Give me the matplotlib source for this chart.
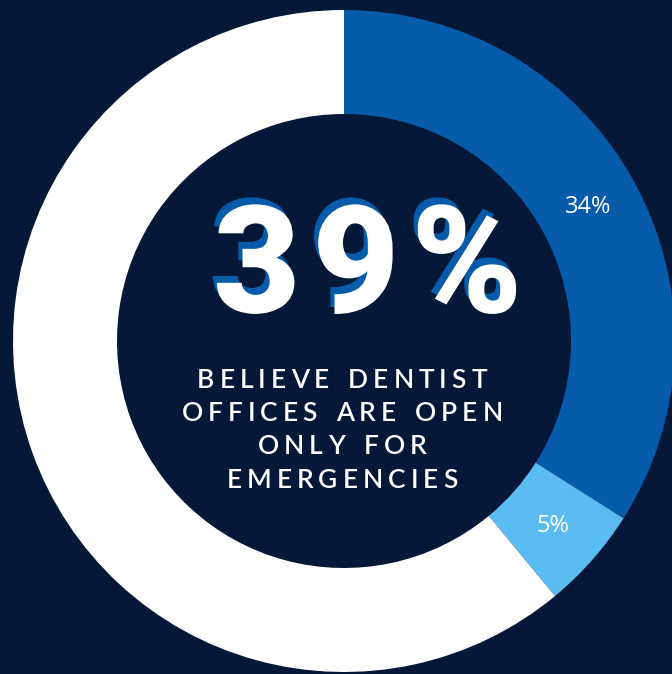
import numpy as np
import matplotlib
matplotlib.use("Agg")
import matplotlib.pyplot as plt
import matplotlib.patheffects as pe

# ---- data ----
segments = ["open only for emergencies", "somewhat", "other"]
shares = [34, 5, 61]
labels = ["34%", "5%", ""]
headline_lines = ["BELIEVE DENTIST", "OFFICES ARE OPEN", "ONLY FOR", "EMERGENCIES"]

# ---- style ----
bg = "#051838"
c_blue = "#065BAA"
c_light = "#5BBCF2"
c_white = "#FFFFFF"

W, H = 672, 674
fig = plt.figure(figsize=(W / 100, H / 100), dpi=100, facecolor=bg)
ax = fig.add_axes([0, 0, 1, 1])
ax.set_facecolor(bg)

cx, cy = 344, H - 341
r_out, r_in = 331, 227

wedges, _ = ax.pie(shares, colors=[c_blue, c_light, c_white], startangle=90,
                   counterclock=False, radius=r_out, center=(cx, cy),
                   wedgeprops=dict(width=r_out - r_in, linewidth=0))
ax.set_xlim(0, W)
ax.set_ylim(0, H)
ax.set_aspect("equal")
ax.axis("off")

# labels in the middle of the ring
r_mid = (r_out + r_in) / 2
for w, lab in zip(wedges, labels):
    if not lab:
        continue
    ang = np.deg2rad((w.theta1 + w.theta2) / 2)
    ax.text(cx + r_mid * np.cos(ang), cy + r_mid * np.sin(ang), lab,
            color="white", fontsize=17, family="Open Sans",
            ha="center", va="center")

renderer = fig.canvas.get_renderer()


def tracked(s, xc, y, tracking, **kw):
    # draw a string char by char, with extra letter spacing
    widths = []
    for ch in s:
        t = ax.text(0, 0, ch if ch != " " else "n", **kw)
        widths.append(t.get_window_extent(renderer).width * (0.6 if ch == " " else 1))
        t.remove()
    total = sum(widths) + tracking * (len(s) - 1)
    x = xc - total / 2
    for ch, wd in zip(s, widths):
        if ch != " ":
            ax.text(x, y, ch, ha="left", va="center", **kw)
        x += wd + tracking


# big number with blue drop shadow (up-left)
big = "%d%%" % (shares[0] + shares[1])
shadow = [pe.withSimplePatchShadow(offset=(-3, 5), shadow_rgbFace=c_blue, alpha=1.0)]
tracked(big, 368, H - 272, 12, color=c_white, fontsize=108, family="Roboto",
        weight="black", style="normal", path_effects=shadow)

# subtitle
for i, line in enumerate(headline_lines):
    tracked(line, 342, H - (380 + 33.5 * i), 5, color="white",
            fontsize=19, family="Lato", weight="semibold", style="normal")

plt.savefig("out.png", dpi=100, facecolor=bg)
